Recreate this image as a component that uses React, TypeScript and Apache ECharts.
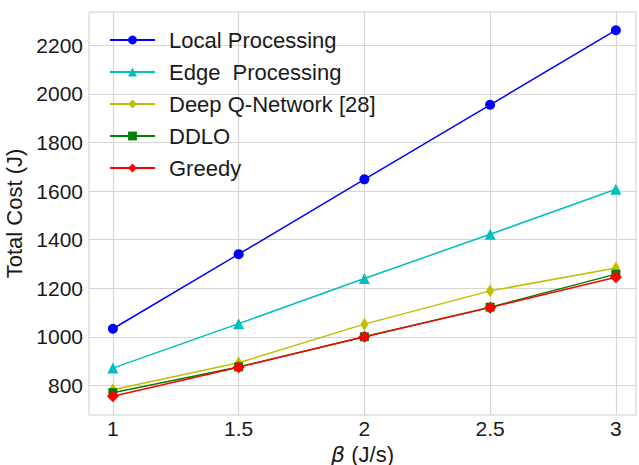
import React, { useEffect, useRef } from "react";
import * as echarts from "echarts";

const betas = [1, 1.5, 2, 2.5, 3];
const localProcessing = [1033, 1340, 1648, 1955, 2262];
const edgeProcessing = [871, 1054, 1240, 1422, 1607];
const deepQNetwork = [782, 893, 1052, 1189, 1283];
const ddlo = [770, 876, 1000, 1122, 1258];
const greedy = [755, 875, 1000, 1120, 1245];
const xTicks = [1, 1.5, 2, 2.5, 3];
const yTicks = [800, 1000, 1200, 1400, 1600, 1800, 2000, 2200];

const FONT = "'Liberation Sans', Arial, sans-serif";
const TXT = "#1a1a1a";

export default function App() {
  const ref = useRef<HTMLDivElement>(null);
  useEffect(() => {
    const chart = echarts.init(ref.current!, undefined, { renderer: "svg" });
    const mk = (name: string, data: number[], color: string, symbol: string, size: any) => ({
      name,
      type: "line",
      data: betas.map((b, i) => [b, data[i]]),
      symbol,
      symbolSize: size,
      lineStyle: { color, width: 1.5 },
      itemStyle: { color },
      emphasis: { disabled: true },
    });
    chart.setOption({
      animation: false,
      backgroundColor: "#fff",
      textStyle: { fontFamily: FONT },
      grid: {
        left: 89,
        top: 12,
        right: 3,
        bottom: 50,
        outerBoundsMode: "none",
        containLabel: false,
        show: true,
        borderColor: "#cccccc",
        borderWidth: 1,
      },
      legend: {
        orient: "vertical",
        left: 104,
        top: 24,
        itemGap: 10,
        itemWidth: 45,
        itemHeight: 11,
        textStyle: { fontSize: 22, color: TXT, fontFamily: FONT, lineHeight: 22, padding: [0, 0, 0, 9] },
        data: ["Local Processing", "Edge  Processing", "Deep Q-Network [28]", "DDLO", "Greedy"],
      },
      xAxis: {
        type: "value",
        min: 0.905,
        max: 3.08,
        name: "{b|β} {t|(J/s)}",
        nameLocation: "middle",
        nameGap: 25,
        nameTextStyle: {
          fontSize: 22,
          lineHeight: 20,
          color: TXT,
          fontFamily: FONT,
          rich: {
            b: { fontStyle: "italic", fontSize: 22, lineHeight: 20, fontFamily: "'DejaVu Sans', sans-serif", color: TXT },
            t: { fontSize: 22, lineHeight: 20, fontFamily: FONT, color: TXT },
          },
        },
        axisLine: { show: false },
        axisTick: { show: false, customValues: xTicks },
        axisLabel: { customValues: xTicks, fontSize: 21, color: TXT, margin: 3, fontFamily: FONT, formatter: (v: number) => String(v) },
        splitLine: { show: true, lineStyle: { color: "#d6d6d6", width: 1.2 } },
      },
      yAxis: {
        type: "value",
        min: 678,
        max: 2337,
        name: "Total Cost (J)",
        nameLocation: "middle",
        nameGap: 59,
        nameTextStyle: { fontSize: 22, color: TXT, fontFamily: FONT },
        axisLine: { show: false },
        axisTick: { show: false, customValues: yTicks },
        axisLabel: { customValues: yTicks, fontSize: 21, color: TXT, margin: 6, fontFamily: FONT, formatter: (v: number) => String(v) },
        splitLine: { show: true, lineStyle: { color: "#d6d6d6", width: 1.2 } },
      },
      series: [
        mk("Local Processing", localProcessing, "#0000ff", "circle", 10),
        mk("Edge  Processing", edgeProcessing, "#00bfbf", "triangle", 11),
        mk("Deep Q-Network [28]", deepQNetwork, "#bfbf00", "diamond", [8, 13]),
        mk("DDLO", ddlo, "#008000", "rect", 9),
        mk("Greedy", greedy, "#ff0000", "diamond", 12),
      ],
    });
    return () => chart.dispose();
  }, []);
  return <div ref={ref} style={{ width: 639, height: 465, position: "absolute", left: 0, top: 0 }} />;
}
